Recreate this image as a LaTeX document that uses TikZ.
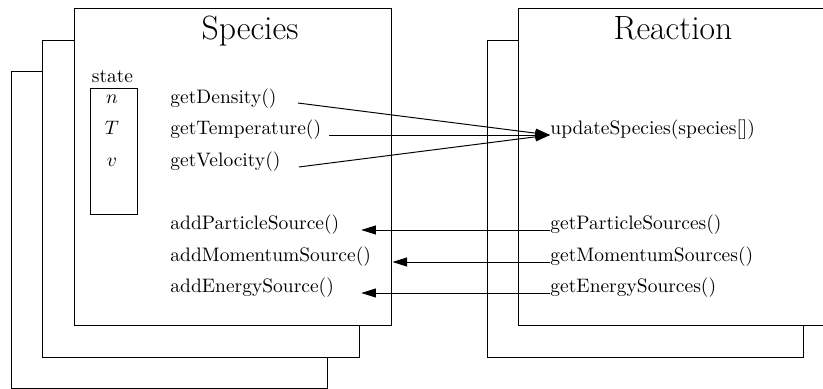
\documentclass[tikz,border=0pt]{standalone}
\usetikzlibrary{arrows.meta}
\begin{document}
\begin{tikzpicture}[x=.513pt,y=.513pt,line width=.5pt,
  >={Triangle[length=7.5pt,width=4.6pt]},
  meth/.style={anchor=base west,inner sep=0pt},
  var/.style={anchor=base,inner sep=0pt},
  title/.style={anchor=base,inner sep=0pt,font=\fontsize{17.28}{21}\selectfont}]
\clip (0,0) rectangle (823,389);
% Species stack
\draw (42,318)--(11,318)--(11,1)--(327,1)--(327,32);
\draw (74,349)--(42,349)--(42,32)--(359,32)--(359,64);
\draw (74,64) rectangle (391,381);
% Reaction stack
\draw (518,349)--(487,349)--(487,32)--(803,32)--(803,64);
\draw (518,64) rectangle (835,381);
\node[title] (sp) at (250,349) {Species};
\node[title] (re) at (673,349) {Reaction};
% state
\node[var] (st) at (112.5,306) {state};
\draw (90,175) rectangle (137,301);
\node[var] (n) at (112,285) {$n$};
\node[var] (T) at (112,254) {$T$};
\node[var] (v) at (112,222) {$v$};
% methods
\node[meth] (gd) at (170,285) {getDensity()};
\node[meth] (gt) at (170,254) {getTemperature()};
\node[meth] (gv) at (170,222) {getVelocity()};
\node[meth] (aps) at (170,159) {addParticleSource()};
\node[meth] (ams) at (170,127) {addMomentumSource()};
\node[meth] (aes) at (170,96) {addEnergySource()};
\node[meth] (us) at (550,254) {updateSpecies(species[])};
\node[meth] (gps) at (550,159) {getParticleSources()};
\node[meth] (gms) at (550,127) {getMomentumSources()};
\node[meth] (ges) at (550,96) {getEnergySources()};
% connectors
\draw[->] ([xshift=10.8pt,yshift=.5pt]gd.base east) -- (us.base west);
\draw[->] ([xshift=4pt]gt.base east) -- (us.base west);
\draw[->] ([xshift=9.2pt]gv.base east) -- (us.base west);
\draw[->] (gps.base west) -- ([xshift=11pt]aps.base east);
\draw[->] (gms.base west) -- ([xshift=10.8pt]ams.base east);
\draw[->] (ges.base west) -- ([xshift=13.8pt]aes.base east);
\end{tikzpicture}
\end{document}
